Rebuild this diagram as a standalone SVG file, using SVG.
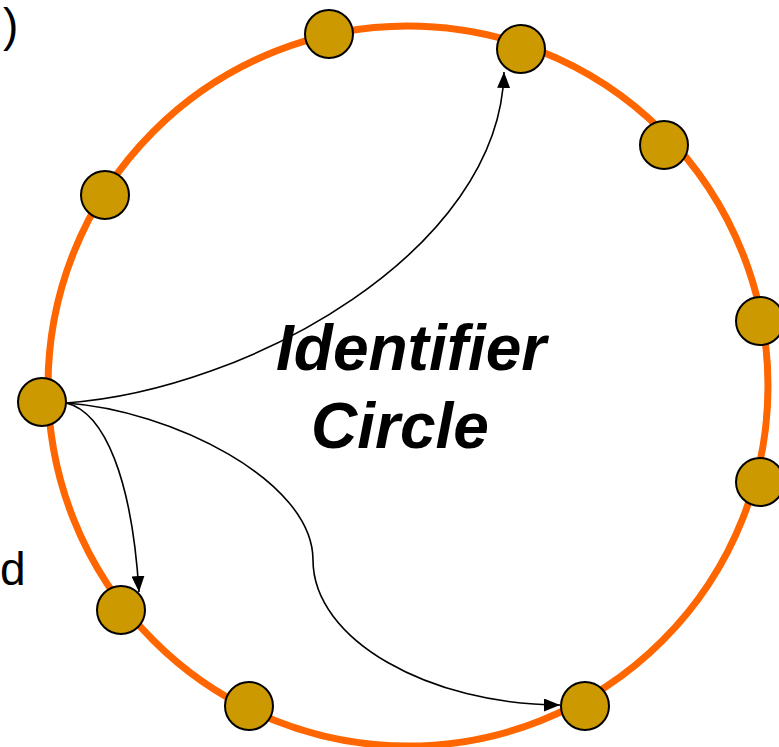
<svg xmlns="http://www.w3.org/2000/svg" width="779" height="747" viewBox="0 0 779 747">
  <defs>
    <marker id="arrow" viewBox="0 0 16 13" refX="16" refY="6.5" markerWidth="16" markerHeight="13" markerUnits="userSpaceOnUse" orient="auto">
      <path d="M0,0 L16,6.5 L0,13 Z" fill="#000"/>
    </marker>
    <style>
      .ring { fill: none; stroke: #FF6600; stroke-width: 7; }
      .node circle { fill: #CC9900; stroke: #000; stroke-width: 2; }
      .link { fill: none; stroke: #000; stroke-width: 1.6; marker-end: url(#arrow); }
      .label { font-family: "Liberation Sans", Arial, sans-serif; font-weight: bold; font-style: italic; font-size: 64px; fill: #000; }
      .edge-text { font-family: "Liberation Sans", Arial, sans-serif; font-size: 46px; fill: #000; }
    </style>
  </defs>
  <rect width="779" height="747" fill="#fff"/>

  <!-- partial text near the left edge -->
  <text class="edge-text" x="3" y="41" font-size="56">)</text>
  <text class="edge-text" x="0" y="585">d</text>

  <!-- identifier ring -->
  <circle class="ring" cx="408" cy="386" r="360"/>

  <text class="label" x="276" y="370">Identifier</text>
  <text class="label" x="311" y="448">Circle</text>

  <g id="nodes">
    <g id="n1" class="node"><circle cx="329" cy="34" r="24"/></g>
    <g id="n2" class="node"><circle cx="521" cy="49" r="24"/></g>
    <g id="n3" class="node"><circle cx="664" cy="145" r="24"/></g>
    <g id="n4" class="node"><circle cx="760" cy="321" r="24"/></g>
    <g id="n5" class="node"><circle cx="760" cy="482" r="24"/></g>
    <g id="n6" class="node"><circle cx="585" cy="706" r="24"/></g>
    <g id="n7" class="node"><circle cx="249" cy="706" r="24"/></g>
    <g id="n8" class="node"><circle cx="121" cy="610" r="24"/></g>
    <g id="n9" class="node"><circle cx="42" cy="402" r="24"/></g>
    <g id="n10" class="node"><circle cx="105" cy="195" r="24"/></g>
  </g>

  <g id="connectors">
    <path class="link" d="M66,403 C250,390 500,250 504,72"/>
    <path class="link" d="M66,403 C105,412 132,480 139,592"/>
    <path class="link" d="M66,403 C170,410 313,480 313,560 C313,640 430,705 560,705"/>
  </g>
</svg>
